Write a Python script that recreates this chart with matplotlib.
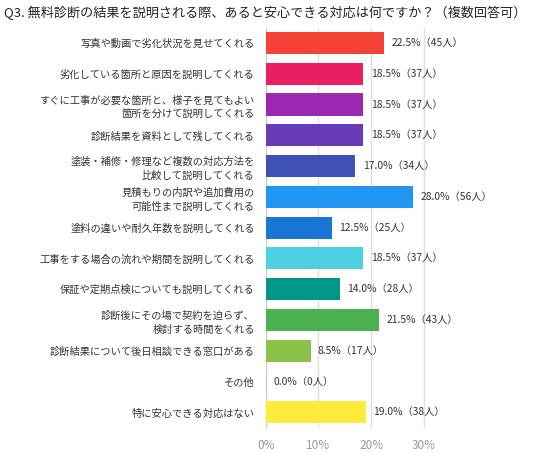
import matplotlib.pyplot as plt

plt.rcParams['font.family'] = ['Noto Sans CJK JP', 'DejaVu Sans']

title = 'Q3. 無料診断の結果を説明される際、あると安心できる対応は何ですか？（複数回答可）'

labels = [
    '写真や動画で劣化状況を見せてくれる',
    '劣化している箇所と原因を説明してくれる',
    'すぐに工事が必要な箇所と、様子を見てもよい\n箇所を分けて説明してくれる',
    '診断結果を資料として残してくれる',
    '塗装・補修・修理など複数の対応方法を\n比較して説明してくれる',
    '見積もりの内訳や追加費用の\n可能性まで説明してくれる',
    '塗料の違いや耐久年数を説明してくれる',
    '工事をする場合の流れや期間を説明してくれる',
    '保証や定期点検についても説明してくれる',
    '診断後にその場で契約を迫らず、\n検討する時間をくれる',
    '診断結果について後日相談できる窓口がある',
    'その他',
    '特に安心できる対応はない',
]
percents = [22.5, 18.5, 18.5, 18.5, 17.0, 28.0, 12.5, 18.5, 14.0, 21.5, 8.5, 0.0, 19.0]
counts = [45, 37, 37, 37, 34, 56, 25, 37, 28, 43, 17, 0, 38]
colors = ['#F44336', '#E91E63', '#9C27B0', '#673AB7', '#3F51B5', '#2196F3',
          '#1976D2', '#4DD0E1', '#009688', '#4CAF50', '#8BC34A', '#9E9E9E', '#FFEB3B']

fig = plt.figure(figsize=(5.36, 4.53), dpi=100)
ax = fig.add_axes([0.496, 0.056, 0.329, 0.883])

y = list(range(len(labels)))
ax.barh(y, percents, height=0.72, color=colors, zorder=3)

for yi, p, c in zip(y, percents, counts):
    ax.text(p + 1.4, yi, f'{p:.1f}%（{c}人）', va='center', ha='left',
            fontsize=7.4, color='#333333')

ax.set_yticks(y)
ax.set_yticklabels(labels, fontsize=7.4, color='#333333', multialignment='right',
                   linespacing=1.45)
ax.set_ylim(len(labels) - 0.5, -0.5)
ax.set_xlim(0, 33.5)
ax.set_xticks([0, 10, 20, 30])
ax.set_xticklabels(['0%', '10%', '20%', '30%'], fontsize=8.5, color='#999999')
ax.tick_params(axis='y', length=0, pad=8)
ax.tick_params(axis='x', length=0, pad=8)
ax.grid(axis='x', color='#E0E0E0', linewidth=1, zorder=0)
for side in ['top', 'right', 'bottom']:
    ax.spines[side].set_visible(False)
ax.spines['left'].set_color('#CCCCCC')

fig.text(0.008, 0.972, title, fontsize=9.45, color='#222222', ha='left', va='center')

fig.savefig('out.png', dpi=100)
